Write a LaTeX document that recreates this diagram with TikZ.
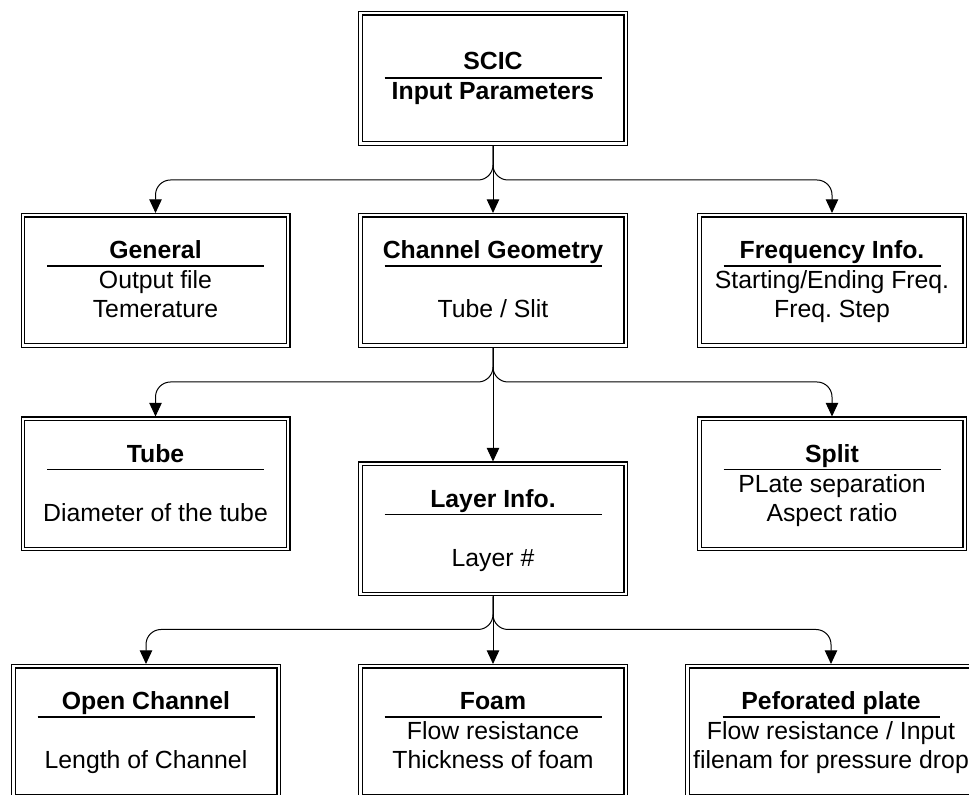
\documentclass[tikz,border=0pt]{standalone}
\usepackage{fontspec}
\setmainfont{Liberation Sans}
\usepackage{tikz}
\usetikzlibrary{arrows.meta, positioning, calc}

\newcommand{\boxfont}{\fontsize{12.4pt}{14.5pt}\selectfont\frenchspacing}

\tikzset{
    infobox/.style={draw, double, double distance=1.1pt, line width=0.65pt,
        minimum height=65.1pt, outer sep=1.2pt, inner sep=0pt},
    boxtitle/.style={font=\boxfont\bfseries, anchor=base, inner sep=0pt},
    boxtext/.style={font=\boxfont, anchor=base, inner sep=0pt},
    rule/.style={line width=0.9pt},
    conn/.style={line width=0.5pt, rounded corners=7.5pt, -{Triangle[length=6.8pt,width=6.2pt]}}
}

\begin{document}
\begin{tikzpicture}[x=0.5pt, y=-0.5pt]
    % Frame
    \clip (0,0) rectangle (969,795);
    \fill[white] (0,0) rectangle (969,795);

    % Top box
    \node[infobox, minimum width=132.6pt] (top) at (493,78.5) {};
    \node[boxtitle] (top-title) at ($(top.north)+(0,59)$) {SCIC};
    \draw[rule] ($(top.north)+(-108.5,67)$) -- ++(217,0);
    \node[boxtitle] (top-sub) at ($(top.north)+(0,89)$) {Input Parameters};

    % Boxes with title and underline
    \foreach \n/\x/\y/\w/\t in {gen/155.5/280.5/132.6/General, chan/493/280.5/132.6/Channel Geometry,
        freq/832/280.5/132.6/Frequency Info., tube/155.5/484/132.6/Tube, layer/493/529/132.6/Layer Info.,
        split/832/484/132.6/Split, open/146/731.5/132.6/Open Channel, foam/493/731.5/132.6/Foam,
        perf/831/731.5/143.6/Peforated plate}
    {
        \node[infobox, minimum width=\w pt] (\n) at (\x,\y) {};
        \node[boxtitle] (\n-title) at ($(\n.north)+(0,46)$) {\t};
        \draw[rule] ($(\n.north)+(-108.5,53)$) -- ++(217,0);
    }

    % Box contents
    \foreach \b/\dy/\txt in {gen/76/Output file, gen/105/Temerature, chan/105/{Tube / Slit},
        freq/76/{Starting/Ending Freq.}, freq/105/Freq. Step, tube/105/Diameter of the tube,
        layer/105/Layer \#, split/76/PLate separation, split/105/Aspect ratio,
        open/105/Length of Channel, foam/76/Flow resistance, foam/105/Thickness of foam,
        perf/76/{Flow resistance / Input}, perf/105/filenam for pressure drop}
        \node[boxtext] (\b-\dy) at ($(\b.north)+(0,\dy)$) {\txt};

    % Connectors
    \draw[conn] (top.south) -- ++(0,34) -| (gen.north);
    \draw[conn] (top.south) -- (chan.north);
    \draw[conn] (top.south) -- ++(0,34) -| (freq.north);

    \draw[conn] (chan.south) -- ++(0,34) -| (tube.north);
    \draw[conn] (chan.south) -- (layer.north);
    \draw[conn] (chan.south) -- ++(0,34) -| (split.north);

    \draw[conn] (layer.south) -- ++(0,33) -| (open.north);
    \draw[conn] (layer.south) -- (foam.north);
    \draw[conn] (layer.south) -- ++(0,33) -| (perf.north);
\end{tikzpicture}
\end{document}
